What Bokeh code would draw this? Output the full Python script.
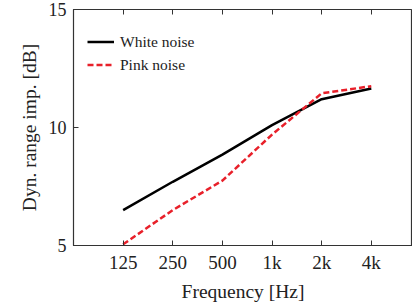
from bokeh.plotting import figure
from bokeh.models import FixedTicker, LogAxis, Range1d, Legend
from bokeh.embed import file_html
from bokeh.resources import INLINE

freqs = [125, 250, 500, 1000, 2000, 4000]
freq_labels = ["125", "250", "500", "1k", "2k", "4k"]
white_noise = [6.5, 7.7, 8.85, 10.1, 11.2, 11.65]
pink_noise = [5.05, 6.5, 7.75, 9.7, 11.45, 11.75]
y_ticks = [5, 10, 15]

FONT = "Liberation Serif"
XTICK_FS = "19px"
YTICK_FS = "18px"
LABEL_FS = "19.5px"
LEGEND_FS = "15.5px"

p = figure(frame_width=339, frame_height=236, output_backend="svg", toolbar_location=None,
           x_axis_type="log", x_range=Range1d(62.5, 62.5 * 2 ** 6.83),
           y_range=Range1d(5, 15), min_border_left=73, min_border_top=9,
           min_border_bottom=10, min_border_right=0)
p.grid.visible = False
p.outline_line_color = "#333333"
p.outline_line_width = 1.2

r1 = p.line(freqs, white_noise, line_color="black", line_width=2.5)
r2 = p.line(freqs, pink_noise, line_color="#e8202a", line_width=2.5, line_dash="6 3")

p.xaxis.ticker = FixedTicker(ticks=freqs, minor_ticks=[])
p.xaxis.major_label_overrides = {f: l for f, l in zip(freqs, freq_labels)}
p.yaxis.ticker = FixedTicker(ticks=y_ticks, minor_ticks=[])

for ax in p.xaxis + p.yaxis:
    ax.major_tick_in = 5
    ax.major_tick_out = 0
    ax.minor_tick_line_color = None
    ax.axis_line_color = "#333333"
    ax.major_tick_line_color = "#333333"
    ax.major_label_text_font = FONT
    ax.major_label_text_color = "#222222"
    ax.axis_label_text_font = FONT
    ax.axis_label_text_font_size = LABEL_FS
    ax.axis_label_text_font_style = "normal"
    ax.axis_label_text_color = "#222222"

p.xaxis.major_label_text_font_size = XTICK_FS
p.yaxis.major_label_text_font_size = YTICK_FS
p.xaxis.axis_label = "Frequency [Hz]"
p.yaxis.axis_label = "Dyn. range imp. [dB]"
p.xaxis.major_label_standoff = 6
p.xaxis.axis_label_standoff = 5
p.yaxis.major_label_standoff = 7
p.yaxis.axis_label_standoff = 6

top = LogAxis(ticker=FixedTicker(ticks=freqs, minor_ticks=[]),
              major_label_overrides={f: "" for f in freqs},
              major_label_text_font_size="1px",
              major_label_standoff=0, major_tick_in=5, major_tick_out=0, axis_line_color=None,
              major_tick_line_color="#333333", minor_tick_line_color=None)
p.add_layout(top, "above")

legend = Legend(items=[("White noise", [r1]), ("Pink noise", [r2])], location=(14, 169))
legend.border_line_color = None
legend.background_fill_alpha = 0
legend.label_text_font = FONT
legend.label_text_font_size = LEGEND_FS
legend.label_text_color = "#222222"
legend.glyph_width = 27
legend.glyph_height = 23
legend.label_height = 23
legend.spacing = 0
legend.margin = 0
legend.padding = 1
legend.label_standoff = 6
p.add_layout(legend)

open("out.html", "w").write(file_html(p, INLINE))
